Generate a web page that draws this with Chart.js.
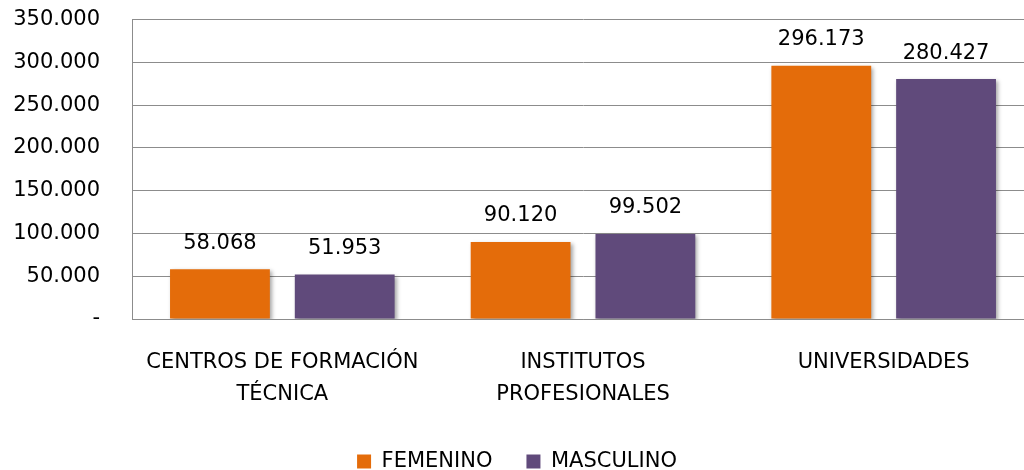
<!DOCTYPE html>
<html>
<head>
<meta charset="utf-8">
<script src="https://cdn.jsdelivr.net/npm/chart.js@4.4.1/dist/chart.umd.min.js"></script>
<style>
html,body{margin:0;padding:0;overflow:hidden;background:#fff;width:1024px;height:470px;}
#wrap{position:absolute;left:0;top:-25px;width:1034px;height:507px;}
</style>
</head>
<body>
<div id="wrap"><canvas id="c" width="1034" height="507"></canvas></div>
<script>
const categories = [["CENTROS DE FORMACIÓN","TÉCNICA"],["INSTITUTOS","PROFESIONALES"],["UNIVERSIDADES"]];
const seriesNames = ["FEMENINO","MASCULINO"];
const femenino = [58068, 90120, 296173];
const masculino = [51953, 99502, 280427];
const yTicks = [0, 50000, 100000, 150000, 200000, 250000, 300000, 350000];
const colors = ["#E46C0A", "#604A7B"];

function fmt(v){
  if (v === 0) return '-';
  return String(Math.round(v)).replace(/\B(?=(\d{3})+(?!\d))/g, '.');
}
const FONT = "'DejaVu Sans', sans-serif";

const shadowPlugin = {
  id: 'shadow',
  beforeDatasetsDraw(chart){
    const ctx = chart.ctx;
    ctx.save();
    ctx.shadowColor = 'rgba(0,0,0,0.35)';
    ctx.shadowBlur = 4;
    ctx.shadowOffsetX = 2;
    ctx.shadowOffsetY = 2;
  },
  afterDatasetsDraw(chart){
    const ctx = chart.ctx;
    ctx.restore();
    ctx.save();
    ctx.font = "21px " + FONT;
    ctx.fillStyle = '#000';
    ctx.textAlign = 'center';
    ctx.textBaseline = 'middle';
    chart.data.datasets.forEach((ds, i) => {
      const meta = chart.getDatasetMeta(i);
      meta.data.forEach((bar, j) => {
        ctx.fillText(fmt(ds.data[j]), bar.x, bar.y - 26);
      });
    });
    ctx.restore();
  }
};

new Chart(document.getElementById('c'), {
  type: 'bar',
  data: {
    labels: categories,
    datasets: [
      { label: seriesNames[0], data: femenino, backgroundColor: colors[0] },
      { label: seriesNames[1], data: masculino, backgroundColor: colors[1] }
    ]
  },
  options: {
    responsive: false,
    devicePixelRatio: 1,
    animation: false,
    categoryPercentage: 0.83,
    barPercentage: 0.8,
    layout: { padding: { top: -6, left: 0, right: 0, bottom: 0 } },
    plugins: {
      legend: {
        position: 'bottom',
        labels: {
          font: { family: FONT, size: 21 },
          color: '#000',
          boxWidth: 14,
          boxHeight: 14,
          padding: 34
        }
      },
      tooltip: { enabled: false }
    },
    scales: {
      x: {
        grid: { display: false, drawTicks: false },
        border: { display: true, color: '#8c8c8c', width: 1 },
        ticks: {
          font: { family: FONT, size: 21, lineHeight: 1.55 },
          color: '#000',
          padding: 27,
          maxRotation: 0
        },
        afterFit(s){ s.height = 98; }
      },
      y: {
        min: 0, max: 350000,
        afterBuildTicks(s){ s.ticks = yTicks.map(v => ({value: v})); },
        grid: { color: '#8c8c8c', lineWidth: 1, drawTicks: false },
        border: { display: true, color: '#8c8c8c', width: 1 },
        ticks: {
          font: { family: FONT, size: 21 },
          color: '#000',
          padding: 32,
          callback: v => fmt(v)
        },
        afterFit(s){ s.width = 132; }
      }
    }
  },
  plugins: [shadowPlugin]
});
</script>
</body>
</html>
